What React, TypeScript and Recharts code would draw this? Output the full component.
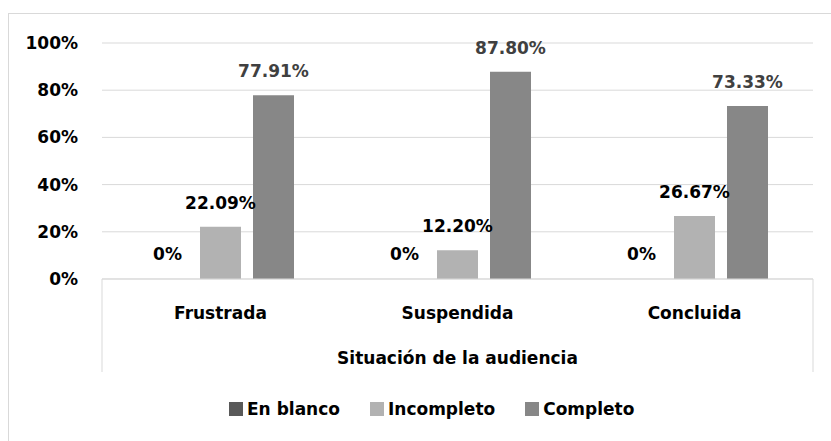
import { Bar, BarChart, CartesianGrid, Cell, Legend, XAxis, YAxis } from "recharts";

const categories = ["Frustrada", "Suspendida", "Concluida"];
const enBlanco = [0, 0, 0];
const incompleto = [0.2209, 0.122, 0.2667];
const completo = [0.7791, 0.878, 0.7333];
const yTicks = [0, 0.2, 0.4, 0.6, 0.8, 1];

const series = [
  { key: "enBlanco", name: "En blanco", color: "#595959", labelColor: "#000000", values: enBlanco },
  { key: "incompleto", name: "Incompleto", color: "#b2b2b2", labelColor: "#000000", values: incompleto },
  { key: "completo", name: "Completo", color: "#878787", labelColor: "#404040", values: completo },
];

const data = categories.map((c, i) => ({
  cat: c,
  enBlanco: enBlanco[i],
  incompleto: incompleto[i],
  completo: completo[i],
}));

const FONT = "'DejaVu Sans', sans-serif";
const GRID = "#d9d9d9";

function pct(v: number): string {
  if (v === 0) return "0%";
  return (v * 100).toFixed(2) + "%";
}

function barLabel(color: string) {
  return (p: any) => {
    const x = Number(p.x) + Number(p.width) / 2;
    const y = Number(p.y) - 24;
    return (
      <text key={`${p.index}`} x={x} y={y} textAnchor="middle" dominantBaseline="central" fill={color} fontSize={17} fontWeight="bold" fontFamily={FONT}>
        {pct(Number(p.value))}
      </text>
    );
  };
}

function CatTick({ x, y, payload }: any) {
  return (
    <text x={x} y={y + 32} textAnchor="middle" dominantBaseline="central" fill="#000" fontSize={17} fontWeight="bold" fontFamily={FONT}>
      {payload.value}
    </text>
  );
}

function AxisBox({ viewBox }: any) {
  const { x, y, width } = viewBox;
  return (
    <g>
      <line x1={x} y1={y} x2={x} y2={y + 93} stroke={GRID} strokeWidth={1} />
      <line x1={x + width} y1={y} x2={x + width} y2={y + 93} stroke={GRID} strokeWidth={1} />
      <text x={x + width / 2} y={y + 79} textAnchor="middle" dominantBaseline="central" fill="#000" fontSize={17} fontWeight="bold" fontFamily={FONT}>
        Situación de la audiencia
      </text>
    </g>
  );
}

function LegendBox() {
  return (
    <div style={{ height: 34, display: "flex", alignItems: "center", paddingLeft: 221, gap: 30 }}>
      {series.map((s) => (
        <span key={s.key} style={{ display: "flex", alignItems: "center", fontFamily: FONT, fontWeight: "bold", fontSize: 17, color: "#000" }}>
          <i style={{ display: "inline-block", width: 14, height: 14, background: s.color, marginRight: 4 }} />
          {s.name}
        </span>
      ))}
    </div>
  );
}

export default function App() {
  return (
    <div style={{ position: "absolute", left: 0, top: 0, width: 831, height: 441, background: "#fff", overflow: "hidden" }}>
      <div style={{ position: "absolute", left: 8, top: 13, width: 840, height: 440, border: `1px solid ${GRID}` }} />
      <div style={{ position: "absolute", left: 0, top: 0 }}>
        <BarChart
          width={831}
          height={441}
          data={data}
          margin={{ top: 43, right: 18, left: 8, bottom: 15 }}
          barCategoryGap={45}
          barGap={12}
        >
          <CartesianGrid stroke={GRID} vertical={false} />
          <XAxis
            dataKey="cat"
            height={113}
            tickLine={false}
            tickSize={0}
            axisLine={{ stroke: GRID }}
            tick={<CatTick />}
            label={<AxisBox />}
          />
          <YAxis
            domain={[0, 1]}
            ticks={yTicks}
            width={94}
            tickLine={false}
            axisLine={false}
            tickMargin={18}
            tickFormatter={(v: number) => Math.round(v * 100) + "%"}
            tick={{ fill: "#000", fontSize: 17, fontWeight: "bold", fontFamily: FONT }}
          />
          <Legend verticalAlign="bottom" content={<LegendBox />} />
          {series.map((s) => (
            <Bar
              key={s.key}
              dataKey={s.key}
              name={s.name}
              fill={s.color}
              barSize={41}
              minPointSize={1}
              isAnimationActive={false}
              label={barLabel(s.labelColor)}
            >
              {s.values.map((v, i) => (
                <Cell key={i} fill={s.color} fillOpacity={v === 0 ? 0 : 1} />
              ))}
            </Bar>
          ))}
        </BarChart>
      </div>
    </div>
  );
}
